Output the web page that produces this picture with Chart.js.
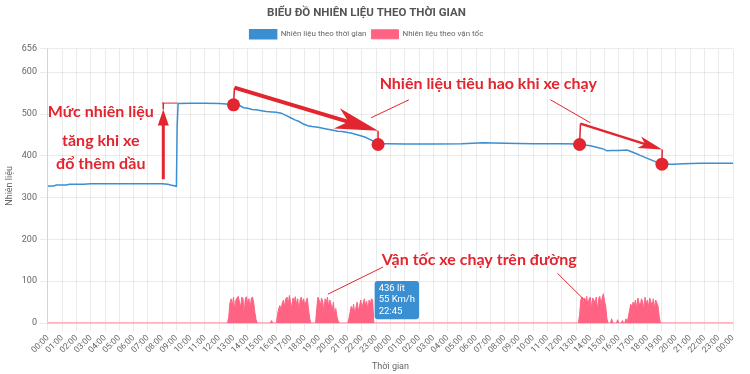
<!DOCTYPE html>
<html>
<head>
<meta charset="utf-8">
<script src="https://cdn.jsdelivr.net/npm/chart.js@4.4.1/dist/chart.umd.min.js"></script>
<style>
html,body{margin:0;padding:0;background:#fff;}
#wrap{width:750px;height:374px;}
</style>
</head>
<body>
<div id="wrap"><canvas id="c" width="750" height="374"></canvas></div>
<script>
// ---------- DATA ----------
const dayHours = ['00:00','01:00','02:00','03:00','04:00','05:00','06:00','07:00','08:00','09:00','10:00','11:00',
                  '12:00','13:00','14:00','15:00','16:00','17:00','18:00','19:00','20:00','21:00','22:00','23:00'];
const tickLabels = [...dayHours, ...dayHours, '00:00'];

// fuel level (litres) at hour offsets from the start of day 1
const fuelHours = [0,0.4,0.6,1.3,1.5,2.5,3.0,4.5,6.0,7.0,8.0,8.4,8.6,9.0,9.05,9.12,10.0,11.0,12.0,12.5,13.0,13.4,13.7,14.0,14.3,14.6,14.95,15.3,15.7,16.0,16.35,16.7,17.0,17.3,17.6,17.9,18.2,18.5,18.8,19.1,19.4,19.7,20.0,20.3,20.6,21.0,21.3,21.6,21.9,22.2,22.5,22.75,23.0,23.3,23.8,25.0,27.0,29.0,30.5,32.0,34.0,36.0,37.25,37.6,38.0,38.5,38.94,39.17,39.5,40.0,40.57,41.03,41.5,42.0,42.43,42.8,43.02,43.83,44.5,45.69,47.09,48.0];
const fuelLevels = [328,328,330,330,332,332,333,333,333,333,333,332,330,327,470,525,526,526,525,524,523,521,515,514,511,510,508,506,505,504,502,496,491,486,482,476,472,470,469,467,465,463,461,459,458,456,454,451,448,445,440,436,432,429,429,428,428,429,431,430,429,429,428,426,424,420,416,412,413,413,414,408,401,394,388,383,380,380,381,382,382,382];

// speed (km/h): driving runs, each a start hour and readings every 5 minutes
const speedStepHours = 5 / 60;
const speedStarts = [12 + 40/60, 15 + 40/60, 16 + 5/60, 18 + 50/60, 21 + 5/60, 37 + 15/60, 39 + 30/60, 39 + 55/60, 40 + 15/60, 40 + 30/60, 40 + 40/60];
const speedRuns = [
  [15,48,58,42,62,30,55,60,64,50,38,62,58,22,60,63,45,58,35,60,62,48,25,8],
  [6],
  [20,35,42,30,48,55,40,58,62,45,66,50,35,60,52,63,44,58,30,55,62,48,58,40,52,60,35,12],
  [35,62,55,40,60,52,28,58,48,62,38,55,45,30,50,20,35,15,5],
  [10,25,40,30,45,20,38,50,28,42,55,35,48,58,40,52,30,55,45,58,55],
  [20,55,62,45,60,50,64,40,58,62,35,60,55,48,62,30,58,64,45,60,70,52,40,10],
  [10],
  [8],
  [6],
  [10],
  [15,30,45,38,50,42,55,35,60,48,40,58,52,30,62,45,55,38,60,50,42,58,35,55,48,40,15]
];

// highlighted reading shown in the tooltip
const tipHour = 22.75, tipFuel = 436, tipSpeed = 55, tipTime = '22:45';

// ---------- BUILD ----------
const fuelPoints = fuelHours.map((h, i) => ({x: h, y: fuelLevels[i]}));
const speedPoints = [{x: 0, y: 0}];
speedStarts.forEach((s, r) => {
  speedPoints.push({x: s - speedStepHours, y: 0});
  speedRuns[r].forEach((v, i) => speedPoints.push({x: s + i * speedStepHours, y: v}));
  speedPoints.push({x: s + speedRuns[r].length * speedStepHours, y: 0});
});
speedPoints.push({x: 48, y: 0});

const RED = '#e2252f';
const notes = {
  circles: [[13.0, 522], [23.13, 427], [37.25, 427], [43.02, 380]],
  texts: [
    {h: 3.7, v: 504, t: 'Mức nhiên liệu'},
    {h: 3.7, v: 437, t: 'tăng khi xe'},
    {h: 3.7, v: 380, t: 'đổ thêm dầu'},
    {h: 30.85, v: 571, t: 'Nhiên liệu tiêu hao khi xe chạy'},
    {h: 30.22, v: 150, t: 'Vận tốc xe chạy trên đường'}
  ],
  arrows: [
    {a: [8.08, 344], b: [8.08, 511], w: 3, len: 16, half: 5.5, notch: 1},
    {a: [13.07, 563], b: [23.13, 460], w: 4, len: 43, half: 10.5, notch: 0.72},
    {a: [37.31, 477], b: [43.04, 415], w: 2.5, len: 24, half: 6, notch: 0.75}
  ],
  thin: [
    [[8.08, 511], [8.08, 527]],
    [[13.0, 522], [13.07, 563]],
    [[23.13, 460], [23.13, 427]],
    [[37.25, 427], [37.31, 477]],
    [[43.04, 415], [43.02, 380]]
  ],
  leaders: [
    [[22.64, 491], [25.29, 534]],
    [[35.21, 534], [38.01, 479]],
    [[23.48, 134], [19.61, 69]],
    [[35.70, 119], [37.59, 55]]
  ],
  pink: [[8.0, 526], [9.1, 526]]
};

const notePlugin = {
  id: 'notes',
  afterDatasetsDraw(chart) {
    const {ctx} = chart;
    const xs = chart.scales.x, ys = chart.scales.y;
    const P = (p) => [xs.getPixelForValue(p[0]), ys.getPixelForValue(p[1])];
    ctx.save();
    ctx.strokeStyle = '#ea6f7a'; ctx.lineWidth = 1.5;
    let a = P(notes.pink[0]), b = P(notes.pink[1]);
    ctx.beginPath(); ctx.moveTo(a[0], a[1]); ctx.lineTo(b[0], b[1]); ctx.stroke();
    ctx.strokeStyle = RED; ctx.lineWidth = 1;
    notes.leaders.forEach(l => { const p = P(l[0]), q = P(l[1]); ctx.beginPath(); ctx.moveTo(p[0], p[1]); ctx.lineTo(q[0], q[1]); ctx.stroke(); });
    ctx.lineWidth = 1.5;
    notes.thin.forEach(l => { const p = P(l[0]), q = P(l[1]); ctx.beginPath(); ctx.moveTo(p[0], p[1]); ctx.lineTo(q[0], q[1]); ctx.stroke(); });
    notes.arrows.forEach(ar => {
      const p = P(ar.a), q = P(ar.b);
      const ang = Math.atan2(q[1] - p[1], q[0] - p[0]);
      const ux = Math.cos(ang), uy = Math.sin(ang), nx = -uy, ny = ux;
      const bx = q[0] - ux * ar.len, by = q[1] - uy * ar.len;
      const mx = q[0] - ux * ar.len * ar.notch, my = q[1] - uy * ar.len * ar.notch;
      ctx.strokeStyle = RED; ctx.lineWidth = ar.w; ctx.lineCap = 'butt';
      ctx.beginPath(); ctx.moveTo(p[0], p[1]); ctx.lineTo(mx + ux, my + uy); ctx.stroke();
      ctx.fillStyle = RED;
      ctx.beginPath();
      ctx.moveTo(q[0], q[1]);
      ctx.lineTo(bx + nx * ar.half, by + ny * ar.half);
      ctx.lineTo(mx, my);
      ctx.lineTo(bx - nx * ar.half, by - ny * ar.half);
      ctx.closePath(); ctx.fill();
    });
    ctx.fillStyle = RED;
    notes.circles.forEach(c => { const p = P(c); ctx.beginPath(); ctx.arc(p[0], p[1], 6.5, 0, Math.PI * 2); ctx.fill(); });
    ctx.font = 'bold 16px Lato';
    ctx.textAlign = 'center'; ctx.textBaseline = 'middle';
    notes.texts.forEach(t => { const p = P([t.h, t.v]); ctx.fillText(t.t, p[0], p[1]); });
    ctx.restore();
  }
};

const BLUE = '#3a8fd2';
const PINK = 'rgb(255,99,132)';
Chart.defaults.font.family = 'Roboto, "Liberation Sans", sans-serif';
Chart.defaults.color = '#666';

const chart = new Chart(document.getElementById('c'), {
  type: 'line',
  data: {
    datasets: [
      {label: 'Nhiên liệu theo thời gian', data: fuelPoints, borderColor: BLUE, backgroundColor: BLUE,
       borderWidth: 1.5, pointRadius: 0, pointHoverRadius: 0, fill: false, tension: 0},
      {label: 'Nhiên liệu theo vận tốc', data: speedPoints, borderColor: PINK, backgroundColor: PINK,
       borderWidth: 1, pointRadius: 0, pointHoverRadius: 0, fill: 'origin', tension: 0}
    ]
  },
  options: {
    responsive: false,
    animation: false,
    events: [],
    layout: {padding: {left: 0, right: 17, top: 0, bottom: 0}},
    plugins: {
      title: {display: true, text: 'BIỂU ĐỒ NHIÊN LIỆU THEO THỜI GIAN', color: '#555',
              font: {size: 11.5, weight: 'bold'}, padding: {top: 6, bottom: 5}},
      legend: {labels: {boxWidth: 27, boxHeight: 9, font: {size: 8}, color: '#666', padding: 5}},
      tooltip: {
        enabled: true, backgroundColor: BLUE, displayColors: false, caretSize: 0, caretPadding: 2,
        padding: {x: 4, y: 2}, cornerRadius: 3, bodyFont: {size: 9.5}, bodySpacing: 0,
        bodyColor: '#fff', xAlign: 'left', yAlign: 'center',
        callbacks: {
          title: () => [],
          label: () => [tipFuel + ' lít', tipSpeed + ' Km/h', tipTime]
        }
      }
    },
    scales: {
      x: {
        type: 'linear', min: 0, max: 48,
        ticks: {stepSize: 1, autoSkip: false, minRotation: 45, maxRotation: 45, font: {size: 8.5}, padding: 2,
                callback: (v) => tickLabels[v]},
        grid: {color: 'rgba(0,0,0,0.08)'},
        title: {display: true, text: 'Thời gian', font: {size: 9}, padding: {top: 4, bottom: 2}}
      },
      y: {
        min: 0, max: 656,
        ticks: {stepSize: 100, font: {size: 9}},
        grid: {color: 'rgba(0,0,0,0.08)'},
        title: {display: true, text: 'Nhiên liệu', font: {size: 9}}
      }
    }
  },
  plugins: [notePlugin]
});

const tipIndex = speedPoints.findIndex(p => Math.abs(p.x - tipHour) < 1e-6);
chart.tooltip.setActiveElements([{datasetIndex: 1, index: tipIndex}], {x: 0, y: 0});
chart.update();
</script>
</body>
</html>
